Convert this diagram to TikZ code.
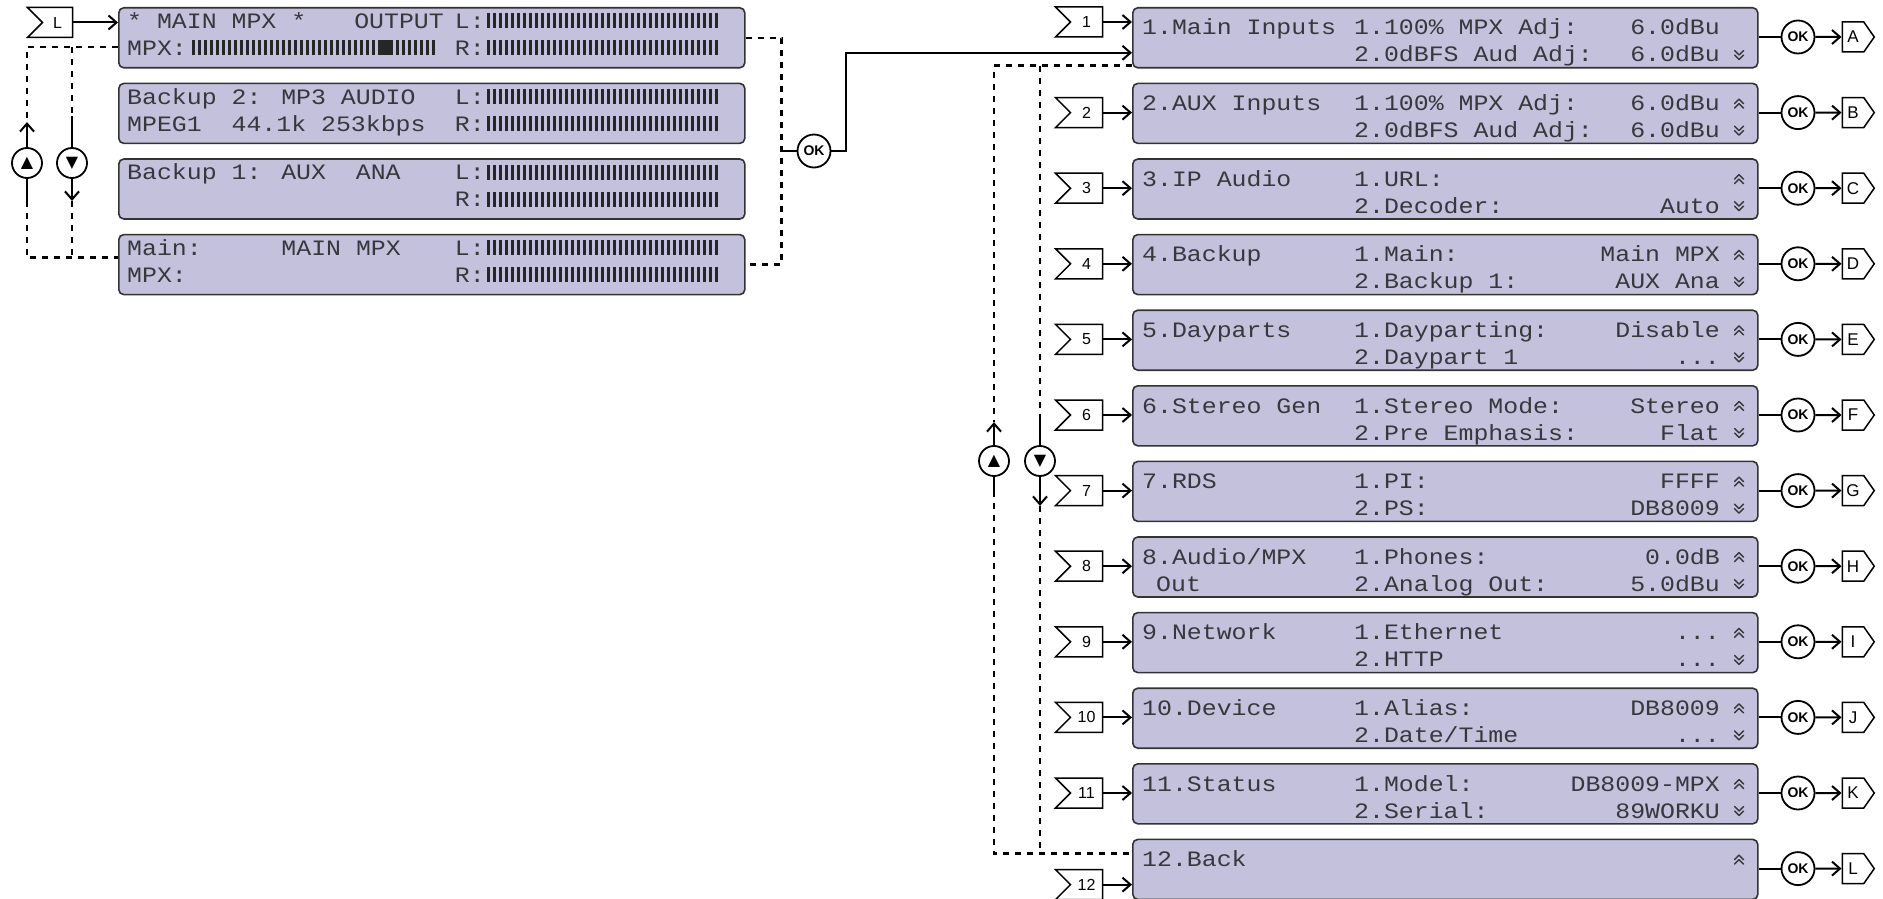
\documentclass[tikz,border=0pt]{standalone}
\usepackage{fontspec}
\usetikzlibrary{arrows.meta,positioning,calc,shapes.symbols}
\newfontfamily\lcdfont[FakeStretch=1.13]{Liberation Mono}
\newfontfamily\tagfont{Liberation Sans}
\newfontfamily\glyphfont{DejaVu Sans}
\definecolor{lcdfill}{RGB}{196,193,221}
\definecolor{lcdink}{RGB}{55,55,60}
\newcommand{\lcddots}{...}
% bar graph of a level meter: start x, last bar index, baseline y
\newcommand{\lcdmeter}[3]{\foreach \bk in {0,...,#2} \fill[meterbar] ({#1+6*\bk},{#3-15}) rectangle ++(2.8,15);}

\begin{document}
\begin{tikzpicture}[
  x=1pt, y=-1pt,
  >={Straight Barb[length=8pt,width=14pt]},
  lcd/.style={draw=black!80, line width=1.6pt, fill=lcdfill, rounded corners=5pt, minimum width=626pt, minimum height=60pt, anchor=north west, inner sep=0pt},
  lcdtext/.style={font=\lcdfont\fontsize{22}{22}\selectfont, text=lcdink, inner sep=0pt},
  meterbar/.style={fill=black!85},
  intag/.style={signal, signal from=west, signal to=nowhere, draw, line width=1.5pt, fill=white, minimum width=47pt, minimum height=30pt, inner sep=1pt, text width=22pt, align=center, font=\tagfont\fontsize{16}{16}\selectfont},
  outtag/.style={signal, signal to=east, signal from=nowhere, signal pointer angle=110, draw, line width=1.5pt, fill=white, minimum width=32pt, minimum height=30pt, inner sep=1pt, font=\tagfont\fontsize{17}{17}\selectfont},
  okbtn/.style={circle, draw, line width=1.8pt, fill=white, minimum size=33pt, inner sep=0pt, font=\tagfont\bfseries\fontsize{14}{14}\selectfont},
  navbtn/.style={circle, draw, line width=1.8pt, fill=white, minimum size=30pt, inner sep=0pt, font=\glyphfont\fontsize{16}{16}\selectfont},
  link/.style={line width=2pt},
  flow/.style={line width=2pt, ->},
  dotlink/.style={line width=2.4pt, dash pattern=on 6pt off 6pt},
  chev/.style={line width=1.4pt, draw=lcdink, line cap=round, line join=round},
  scrollup/.pic={\draw[chev] (-4.5,0) -- (0,-4.5) -- (4.5,0); \draw[chev] (-4.5,4.5) -- (0,0) -- (4.5,4.5);},
  scrolldown/.pic={\draw[chev] (-4.5,-4.5) -- (0,0) -- (4.5,-4.5); \draw[chev] (-4.5,0) -- (0,4.5) -- (4.5,0);}
]
\useasboundingbox (0,0) rectangle (1883,899);

% status screens
\foreach \k in {1,...,4} {
  \pgfmathsetmacro\sy{7+75.6*(\k-1)}
  \node[lcd] (s\k) at (118,\sy) {};
  \lcdmeter{487}{38}{\sy+21.5}
  \lcdmeter{487}{38}{\sy+48.5}
  \node[lcdtext, anchor=base east] (sl\k) at (485,\sy+21.5) {L:};
  \node[lcdtext, anchor=base east] (sr\k) at (485,\sy+48.5) {R:};
}
\node[lcdtext, anchor=base west] (s1a) at (127,28.5) {* MAIN MPX *};
\node[lcdtext, anchor=base east] (s1b) at (444,28.5) {OUTPUT};
\node[lcdtext, anchor=base west] (s1c) at (127,55.5) {MPX:};
\lcdmeter{192}{40}{55.5}
\fill[meterbar] (378,40.5) rectangle (390,55.5);
\node[lcdtext, anchor=base west] (s2a) at (127,104.1) {Backup 2: MP3 AUDIO};
\node[lcdtext, anchor=base west] (s2b) at (127,131.1) {MPEG1\ \ 44.1k 253kbps};
\node[lcdtext, anchor=base west] (s3a) at (127,179.7) {Backup 1: AUX\ \ ANA};
\node[lcdtext, anchor=base west] (s4a) at (127,255.3) {Main:};
\node[lcdtext, anchor=base east] (s4b) at (401,255.3) {MAIN MPX};
\node[lcdtext, anchor=base west] (s4c) at (127,282.3) {MPX:};

% navigation of the status screens
\node[intag, minimum width=45pt] (inL) at (57.5,22.5) {L};
\draw[flow] (inL.east) -- (inL.east -| s1.west);
\node[navbtn] (up1) at (27,163) {▲};
\node[navbtn] (dn1) at (72,163) {▼};
\coordinate (topL) at ([yshift=-9pt]s1.west);
\coordinate (botL) at ([yshift=7pt]s4.west);
\draw[dotlink] (topL) -| ([yshift=25pt]up1.north);
\draw[flow] (up1.north) -- ([yshift=25pt]up1.north);
\draw[link] (up1.south) -- ([yshift=-22pt]up1.south);
\draw[dotlink] ([yshift=-22pt]up1.south) |- (botL);
\draw[dotlink] (dn1.north |- topL) -- ([yshift=31pt]dn1.north);
\draw[link] ([yshift=31pt]dn1.north) -- (dn1.north);
\draw[flow] (dn1.south) -- ([yshift=-22pt]dn1.south);
\draw[dotlink] ([yshift=-22pt]dn1.south) -- (dn1.south |- botL);

% menu screens
\foreach \i/\ttl/\ia/\va/\ib/\vb/\up/\dn/\ltr in {
  1/1.Main Inputs/1.100\% MPX Adj:/6.0dBu/2.0dBFS Aud Adj:/6.0dBu/0/1/A,
  2/2.AUX Inputs/1.100\% MPX Adj:/6.0dBu/2.0dBFS Aud Adj:/6.0dBu/1/1/B,
  3/3.IP Audio/1.URL://2.Decoder:/Auto/1/1/C,
  4/4.Backup/1.Main:/Main MPX/2.Backup 1:/AUX Ana/1/1/D,
  5/5.Dayparts/1.Dayparting:/Disable/2.Daypart 1/\lcddots/1/1/E,
  6/6.Stereo Gen/1.Stereo Mode:/Stereo/2.Pre Emphasis:/Flat/1/1/F,
  7/7.RDS/1.PI:/FFFF/2.PS:/DB8009/1/1/G,
  8/{8.Audio/MPX}/1.Phones:/0.0dB/2.Analog Out:/5.0dBu/1/1/H,
  9/9.Network/1.Ethernet/\lcddots/2.HTTP/\lcddots/1/1/I,
  10/10.Device/1.Alias:/DB8009/{2.Date/Time}/\lcddots/1/1/J,
  11/11.Status/1.Model:/DB8009-MPX/2.Serial:/89WORKU/1/1/K,
  12/12.Back/////1/0/L} {
  \pgfmathsetmacro\ty{7+75.6*(\i-1)}
  \pgfmathsetmacro\tagy{\ty+(\i==1 ? 15 : (\i==12 ? 46 : 30))}
  \node[lcd, minimum width=625pt] (m\i) at (1132,\ty) {};
  \node[lcdtext, anchor=base west] (t\i) at (1142,\ty+28) {\ttl};
  \node[lcdtext, anchor=base west] (a\i) at (1354,\ty+28) {\ia};
  \node[lcdtext, anchor=base east] (va\i) at (1720,\ty+28) {\va};
  \node[lcdtext, anchor=base west] (b\i) at (1354,\ty+55) {\ib};
  \node[lcdtext, anchor=base east] (vb\i) at (1720,\ty+55) {\vb};
  \ifnum\up=1 \pic at (1739,\ty+21) {scrollup}; \fi
  \ifnum\dn=1 \pic at (1739,\ty+48) {scrolldown}; \fi
  \node[intag] (in\i) at (1086.5,\tagy) {\i};
  \node[okbtn] (ok\i) at (1798,\ty+30) {OK};
  \node[outtag] (out\i) at (1853,\ty+30) {\ltr};
  \draw[flow] (in\i.east) -- (in\i.east -| m\i.west);
  \draw[link] (m\i.east |- ok\i) -- (ok\i);
  \draw[flow] (ok\i) -- (out\i);
}
\node[lcdtext, anchor=base west] (t8b) at ([xshift=24pt,yshift=-55pt]m8.north west) {Out};

% select from the status screens
\node[okbtn] (ok0) at (814,151) {OK};
\draw[dotlink] (s1.east) -| ([xshift=-15pt]ok0.west) |- (s4.east);
\draw[link] ([xshift=-15pt]ok0.west) -- (ok0.west);
\draw[flow] (ok0.east) -- ++(15,0) |- ([yshift=-15pt]m1.west);

% navigation of the menu
\node[navbtn] (up2) at (994,461) {▲};
\node[navbtn] (dn2) at (1040,461) {▼};
\coordinate (topR) at ([yshift=3pt]m1.south west);
\coordinate (botR) at ([yshift=-15pt]m12.north west);
\draw[dotlink] (topR) -| ([yshift=23pt]up2.north);
\draw[flow] (up2.north) -- ([yshift=23pt]up2.north);
\draw[link] (up2.south) -- ([yshift=-14pt]up2.south);
\draw[dotlink] ([yshift=-14pt]up2.south) |- (botR);
\draw[dotlink] (dn2.north |- topR) -- ([yshift=29pt]dn2.north);
\draw[link] ([yshift=29pt]dn2.north) -- (dn2.north);
\draw[flow] (dn2.south) -- ([yshift=-29pt]dn2.south);
\draw[dotlink] ([yshift=-29pt]dn2.south) -- (dn2.south |- botR);
\end{tikzpicture}
\end{document}
